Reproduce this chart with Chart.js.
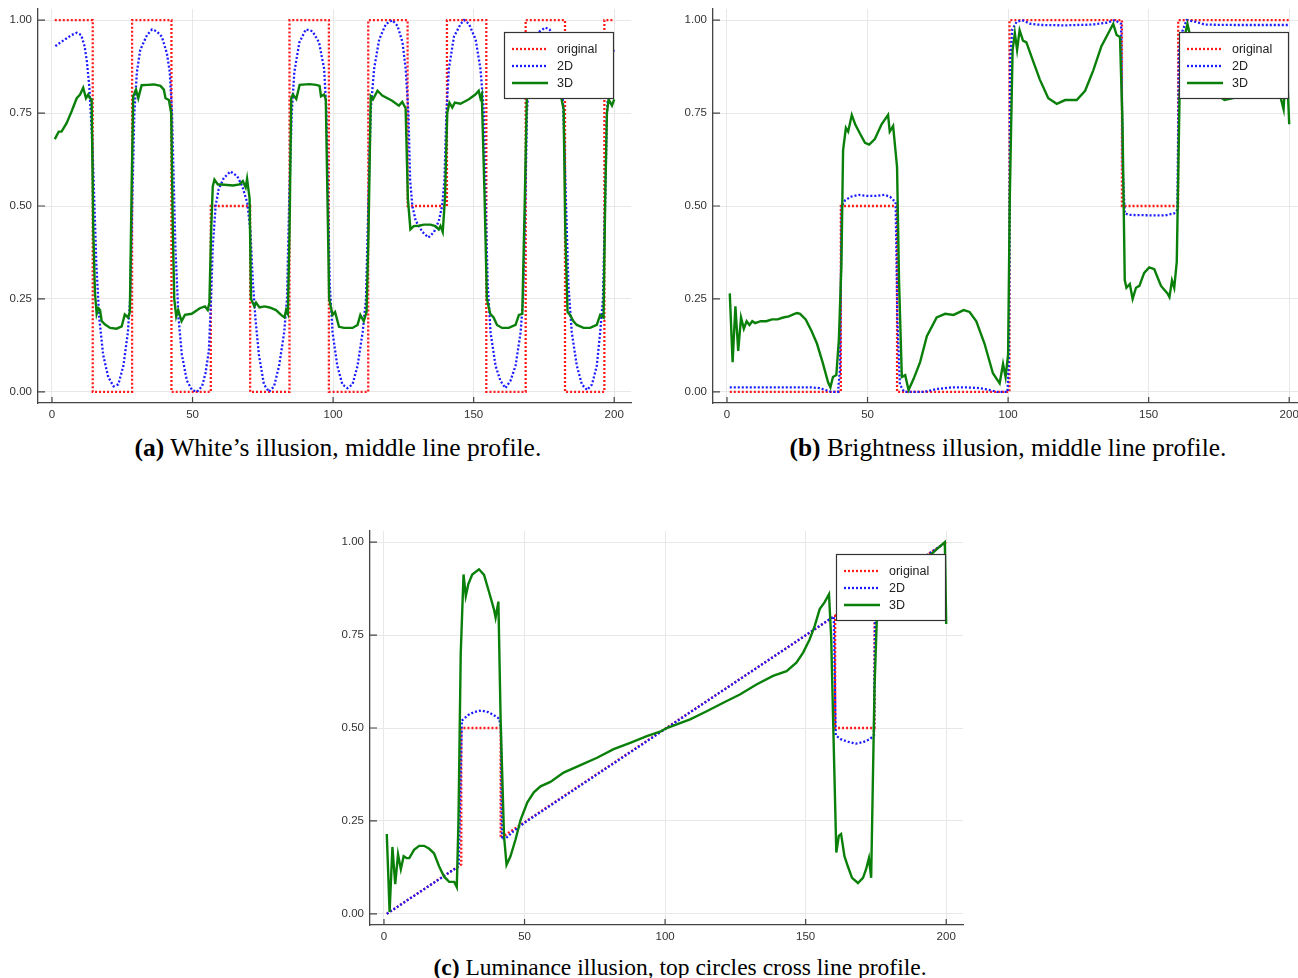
<!DOCTYPE html>
<html><head><meta charset="utf-8">
<script src="https://cdn.jsdelivr.net/npm/chart.js@4.4.1/dist/chart.umd.min.js"></script>
<style>
html,body{margin:0;padding:0;background:#fff;}
body{width:1298px;height:978px;overflow:hidden;position:relative;}
canvas.c{position:absolute;}
.cap{position:absolute;font-family:"Liberation Serif","DejaVu Serif",serif;font-size:21px;color:#000;white-space:nowrap;}
.cap b{font-weight:bold;}
</style></head>
<body>
<canvas class="c" id="ca" width="660" height="430" style="left:0px;top:0px;width:660px;height:430px"></canvas>
<canvas class="c" id="cb" width="660" height="430" style="left:675px;top:0px;width:660px;height:430px"></canvas>
<canvas class="c" id="cc" width="660" height="430" style="left:332px;top:522px;width:660px;height:430px"></canvas>
<div class="cap" id="capA" data-cx="338" data-w="407" style="top:433px"><b>(a)</b> White’s illusion, middle line profile.</div>
<div class="cap" id="capB" data-cx="1008" data-w="437" style="top:433px"><b>(b)</b> Brightness illusion, middle line profile.</div>
<div class="cap" id="capC" data-cx="680" data-w="493" style="top:954px"><b>(c)</b> Luminance illusion, top circles cross line profile.</div>
<script>
// ---------- shared tick labels ----------
const xTicks = [0, 50, 100, 150, 200];
const xTickLabels = ['0', '50', '100', '150', '200'];
const yTicks = [0, 0.25, 0.5, 0.75, 1];
const yTickLabels = ['0.00', '0.25', '0.50', '0.75', '1.00'];
const seriesNames = ['original', '2D', '3D'];

// ---------- (a) White's illusion ----------
const a_original = [[1,1],[14.5,1],[14.5,0],[28.5,0],[28.5,1],[42.5,1],[42.5,0],[56.5,0],[56.5,0.5],[70.5,0.5],[70.5,0],[84.5,0],[84.5,1],[98.5,1],[98.5,0],[112.5,0],[112.5,1],[126.5,1],[126.5,0.5],[140.5,0.5],[140.5,1],[154.5,1],[154.5,0],[168.5,0],[168.5,1],[182.5,1],[182.5,0],[196.5,0],[196.5,1],[200,1]];
const a_2d = [[1.2,0.93],[3,0.94],[5,0.95],[7,0.96],[8.8,0.966],[10.4,0.96],[11.6,0.93],[12.4,0.89],[13.3,0.82],[14.3,0.68],[14.9,0.55],[15.8,0.34],[16.8,0.2],[18.2,0.1],[20,0.04],[21.9,0.015],[23.6,0.02],[25.4,0.07],[27,0.16],[27.8,0.25],[28.6,0.52],[29.3,0.75],[30.2,0.86],[31.4,0.92],[33.8,0.96],[35.6,0.975],[37.3,0.97],[39.1,0.955],[40.9,0.91],[41.9,0.86],[42.7,0.75],[43.3,0.57],[43.9,0.39],[45,0.2],[46.2,0.1],[48,0.03],[49.8,0.005],[51.6,0.0],[53.4,0.015],[54.6,0.05],[55.8,0.11],[56.6,0.25],[57.2,0.39],[58.2,0.5],[59.3,0.545],[61.1,0.575],[63.5,0.593],[65.9,0.58],[67.7,0.553],[69.5,0.508],[70.6,0.43],[71.5,0.29],[72.4,0.195],[73.6,0.1],[75.4,0.02],[77.2,0.0],[79,0.015],[80.8,0.07],[82.6,0.16],[83.6,0.25],[84.4,0.52],[85.3,0.75],[86.2,0.86],[88,0.94],[90.3,0.975],[92.7,0.97],[95,0.94],[96.8,0.87],[97.6,0.76],[98.2,0.52],[98.8,0.29],[99.8,0.16],[101.5,0.07],[103.3,0.02],[105.1,0.01],[106.9,0.02],[108.7,0.07],[110.5,0.16],[111.7,0.25],[112.6,0.52],[113.4,0.76],[114.6,0.87],[116.4,0.948],[118.8,0.99],[121.1,1.0],[122.9,0.985],[124.7,0.94],[125.8,0.87],[126.8,0.75],[127.4,0.57],[128.2,0.5],[129.4,0.46],[131.8,0.43],[133.9,0.415],[135.9,0.43],[137.6,0.46],[138.8,0.5],[139.6,0.57],[140.3,0.75],[141.2,0.87],[143,0.956],[145.4,0.99],[146.6,1.0],[148.3,0.99],[150.7,0.948],[152.4,0.87],[153.6,0.76],[154.2,0.52],[155,0.29],[156,0.16],[157.8,0.07],[159.5,0.03],[161.3,0.01],[163.1,0.03],[164.9,0.07],[166.7,0.16],[167.6,0.25],[168.4,0.52],[169,0.76],[170,0.86],[171.5,0.93],[173.5,0.97],[175.5,0.98],[177,0.975],[179,0.95],[180.5,0.9],[181.3,0.84],[181.9,0.76],[182.8,0.52],[183.7,0.29],[184.9,0.16],[186.7,0.07],[188.5,0.02],[190.3,0.005],[192.1,0.02],[193.8,0.07],[195,0.16],[196,0.25],[196.8,0.52],[197.4,0.75],[198.3,0.85],[199,0.9],[200,0.925]];
const a_3d = [[1,0.68],[2.4,0.70],[3.4,0.70],[5.2,0.723],[7,0.755],[8.8,0.79],[10,0.80],[11.1,0.818],[12.1,0.79],[12.9,0.80],[13.5,0.79],[14.1,0.787],[14.7,0.43],[15.3,0.265],[15.9,0.21],[16.5,0.225],[17.1,0.22],[17.7,0.19],[18.9,0.181],[20.7,0.172],[23,0.17],[24.8,0.176],[25.9,0.208],[27.1,0.20],[27.7,0.215],[28.3,0.53],[28.9,0.795],[29.9,0.813],[30.7,0.79],[31.9,0.825],[33.9,0.826],[36.3,0.827],[38.6,0.823],[39.8,0.813],[40.4,0.79],[41.6,0.785],[42.4,0.75],[43,0.43],[43.5,0.25],[44.2,0.203],[44.9,0.22],[46.1,0.19],[47.3,0.207],[49.7,0.21],[52.6,0.225],[54.4,0.23],[55.4,0.22],[56,0.24],[56.6,0.43],[57.2,0.553],[57.8,0.571],[59,0.558],[60.2,0.558],[64.4,0.555],[66.7,0.558],[67.9,0.567],[68.9,0.55],[69.4,0.573],[70.3,0.52],[70.8,0.25],[72,0.23],[72.6,0.24],[73.8,0.227],[75.6,0.23],[77.4,0.227],[79.7,0.22],[81.5,0.207],[82.7,0.2],[83.3,0.22],[83.9,0.21],[84.5,0.43],[85.1,0.79],[85.7,0.8],[86.9,0.788],[88.1,0.826],[91.6,0.828],[94,0.826],[95.2,0.823],[95.7,0.795],[96.8,0.80],[97.4,0.787],[98,0.52],[98.6,0.25],[99.8,0.207],[100.7,0.215],[102.1,0.175],[103.9,0.172],[106.9,0.172],[108.7,0.18],[109.7,0.207],[110.9,0.19],[111.9,0.215],[112.6,0.43],[113.4,0.795],[114.2,0.787],[115.8,0.81],[117.5,0.797],[121,0.783],[123.4,0.77],[124.6,0.78],[125.8,0.763],[126.6,0.52],[127.5,0.437],[128.7,0.446],[130.5,0.447],[132.3,0.45],[134.6,0.45],[136.4,0.446],[137.6,0.437],[138.2,0.446],[139,0.43],[139.8,0.52],[140.6,0.75],[141.4,0.778],[142.4,0.765],[143.3,0.778],[145.3,0.775],[148.3,0.787],[150.6,0.8],[151.8,0.81],[152.4,0.79],[152.9,0.80],[153.9,0.52],[154.7,0.25],[155.9,0.21],[157.1,0.2],[158.3,0.18],[160.1,0.172],[162.5,0.172],[164.9,0.18],[166.1,0.207],[167.3,0.21],[168.2,0.52],[168.9,0.787],[170,0.80],[172,0.82],[175,0.825],[178,0.825],[180,0.81],[181.2,0.79],[182,0.76],[182.6,0.43],[183.4,0.215],[184.3,0.207],[185.5,0.19],[186.7,0.18],[189.1,0.172],[191.4,0.172],[193.8,0.18],[195,0.207],[196.2,0.2],[196.8,0.52],[197.4,0.75],[198,0.787],[199.2,0.77],[200,0.787]];

// ---------- (b) Brightness illusion ----------
const b_original = [[1,0],[40.5,0],[40.5,0.5],[60.5,0.5],[60.5,0],[100.5,0],[100.5,1],[140.5,1],[140.5,0.5],[160.5,0.5],[160.5,1],[200,1]];
const b_2d = [[1,0.012],[30,0.012],[33,0.01],[35,0.005],[37,0.0],[39.5,0.0],[40.2,0.06],[40.8,0.5],[42,0.515],[44,0.525],[47,0.53],[50,0.527],[53,0.527],[56,0.53],[58,0.525],[60,0.51],[60.6,0.2],[61.5,0.02],[63,0.0],[70,0.0],[72,0.003],[75,0.008],[80,0.012],[85,0.012],[90,0.01],[94,0.004],[96,0.0],[99.8,0.0],[100.3,0.1],[100.8,0.9],[101.5,0.975],[103,0.995],[105,1.0],[108,0.99],[112,0.987],[120,0.986],[130,0.988],[135,0.993],[138,1.0],[140.2,0.99],[140.8,0.6],[141.5,0.48],[143,0.476],[150,0.475],[156,0.475],[159,0.48],[160.2,0.49],[160.8,0.92],[162,0.97],[163.5,1.0],[167,0.995],[170,0.988],[180,0.987],[200,0.987]];
const b_3d = [[1,0.265],[2,0.08],[3,0.23],[4,0.11],[5,0.20],[6,0.17],[7,0.19],[8,0.18],[9,0.19],[10,0.185],[12,0.19],[14,0.19],[16,0.195],[18,0.195],[20,0.20],[22,0.203],[24,0.21],[25,0.212],[26,0.21],[28,0.195],[30,0.165],[32,0.13],[34,0.08],[36,0.025],[36.8,0.012],[37.7,0.04],[38.9,0.045],[39.8,0.14],[40.7,0.34],[41.3,0.65],[42.3,0.71],[43.1,0.70],[44.4,0.745],[45.6,0.72],[47.3,0.695],[49.1,0.67],[50.6,0.665],[52.6,0.68],[55,0.72],[57.3,0.745],[57.9,0.70],[59.1,0.715],[60.5,0.605],[61.2,0.3],[62.2,0.04],[63.4,0.045],[64.6,0.005],[66.4,0.035],[68.7,0.08],[71.1,0.15],[74.6,0.2],[77.6,0.21],[80.6,0.207],[84.2,0.22],[86.3,0.215],[88.7,0.19],[91.6,0.13],[94.6,0.05],[97,0.023],[98.2,0.075],[99.1,0.04],[100,0.1],[100.6,0.52],[101.6,0.92],[102.4,0.965],[103.2,0.92],[104.1,0.973],[105.3,0.945],[106.5,0.94],[108.9,0.89],[111.3,0.84],[114.3,0.79],[117.3,0.775],[120.3,0.785],[124.4,0.785],[127.4,0.81],[130.3,0.865],[133.2,0.93],[136.2,0.973],[137.4,0.99],[138.6,0.96],[139.8,0.955],[140.7,0.72],[141.5,0.3],[142.1,0.28],[143.3,0.29],[144.3,0.25],[145.5,0.28],[146.7,0.285],[148.4,0.32],[150.2,0.335],[152,0.33],[154.4,0.285],[156.7,0.265],[157.4,0.255],[158.3,0.3],[159.1,0.28],[160,0.35],[161,0.8],[162,0.93],[163.8,0.99],[165,0.95],[166,0.94],[168,0.90],[171,0.85],[174,0.80],[177,0.785],[180,0.79],[184,0.80],[188,0.82],[192,0.82],[195,0.80],[197,0.79],[198,0.76],[199,0.9],[200,0.72]];

// ---------- (c) Luminance illusion ----------
const c_original = [[1,0],[27.5,0.133],[27.5,0.5],[41.5,0.5],[41.5,0.204],[160.5,0.802],[160.5,0.5],[174.5,0.5],[174.5,0.872],[200,1]];
const c_2d = [[1,0],[26.6,0.128],[27.7,0.52],[30,0.535],[32,0.543],[34.5,0.547],[37,0.543],[39,0.535],[41,0.525],[41.6,0.5],[42,0.2],[43.3,0.203],[46,0.222],[50,0.245],[100,0.497],[160,0.8],[160.7,0.48],[162.5,0.47],[165,0.463],[167.8,0.458],[170.5,0.462],[172.8,0.47],[174.3,0.48],[174.8,0.872],[200,1]];
const c_3d = [[1,0.215],[2,0.005],[3,0.18],[4,0.08],[5,0.16],[6,0.12],[7,0.155],[8,0.15],[9,0.15],[10.7,0.172],[12.5,0.183],[14.3,0.183],[16.1,0.175],[17.8,0.163],[19.6,0.128],[21.4,0.10],[23.2,0.086],[25,0.086],[25.9,0.072],[26.5,0.25],[27.3,0.70],[28.3,0.913],[29.1,0.855],[30,0.887],[31.4,0.913],[33.8,0.927],[35.6,0.912],[37.3,0.868],[39.1,0.82],[39.7,0.797],[40.7,0.84],[41.5,0.52],[42.7,0.21],[43.6,0.132],[45,0.155],[46.8,0.2],[48.6,0.253],[51,0.30],[53.3,0.327],[55.7,0.343],[59.2,0.355],[63.9,0.38],[69.9,0.40],[75.8,0.42],[81.7,0.443],[87.6,0.46],[93.5,0.478],[98.2,0.49],[100.6,0.5],[108.9,0.523],[114.8,0.545],[120.7,0.568],[126.6,0.59],[132.5,0.617],[138.4,0.64],[143.2,0.653],[146.7,0.676],[149.1,0.703],[151.4,0.738],[153.2,0.774],[155,0.82],[156.7,0.838],[158.3,0.86],[159.1,0.74],[159.9,0.48],[160.9,0.165],[161.8,0.21],[162.6,0.215],[163.8,0.155],[165,0.128],[166.5,0.097],[168.6,0.083],[170.4,0.097],[171.5,0.12],[172.5,0.15],[173.3,0.097],[174.5,0.61],[175.3,0.79],[176,0.86],[180,0.88],[185,0.91],[190,0.94],[195,0.97],[199.5,1.0],[200,0.78]];

// ---------- styles ----------
const styles = [
  {color:'#ff1a1a', dash:[2,2], width:2.3, order:2},
  {color:'#1a1aff', dash:[2,2], width:2.3, order:1},
  {color:'#0a800a', dash:[], width:2.4, order:0}
];
const tickFont = {family:'"Liberation Sans", Arial, Helvetica, sans-serif', size:11.5};

const inTicks = {
  id:'inTicks',
  afterDatasetsDraw(chart){
    const {ctx, chartArea:ca, scales} = chart;
    ctx.save();
    ctx.strokeStyle = '#444'; ctx.lineWidth = 1.2;
    ctx.beginPath();
    scales.x.ticks.forEach(t=>{const px=scales.x.getPixelForValue(t.value); ctx.moveTo(px,ca.bottom); ctx.lineTo(px,ca.bottom-6);});
    scales.y.ticks.forEach(t=>{const py=scales.y.getPixelForValue(t.value); ctx.moveTo(ca.left,py); ctx.lineTo(ca.left+7,py);});
    ctx.stroke();
    ctx.restore();
  }
};
const boxLegend = {
  id:'boxLegend',
  afterDraw(chart){
    const {ctx, chartArea:ca} = chart;
    const w = 109, h = 66;
    const x0 = Math.round(ca.right - 18 - w), y0 = Math.round(ca.top + 23);
    ctx.save();
    ctx.fillStyle = '#fff'; ctx.fillRect(x0, y0, w, h);
    ctx.strokeStyle = '#333'; ctx.lineWidth = 1.2; ctx.setLineDash([]);
    ctx.strokeRect(x0 + 0.5, y0 + 0.5, w, h);
    chart.data.datasets.forEach((ds, i) => {
      const yy = y0 + 17 + i * 17;
      ctx.beginPath();
      ctx.setLineDash(ds.borderDash || []);
      ctx.strokeStyle = ds.borderColor; ctx.lineWidth = ds.borderWidth;
      ctx.moveTo(x0 + 8, yy); ctx.lineTo(x0 + 44, yy); ctx.stroke();
      ctx.setLineDash([]);
      ctx.fillStyle = '#222';
      ctx.font = '12.5px "Liberation Sans", Arial, Helvetica, sans-serif';
      ctx.textBaseline = 'middle'; ctx.textAlign = 'left';
      ctx.fillText(ds.label, x0 + 53, yy + 0.5);
    });
    ctx.restore();
  }
};

function makeChart(id, series){
  const datasets = series.map((pts, i) => ({
    label: seriesNames[i],
    data: pts.map(p => ({x:p[0], y:p[1]})),
    showLine: true,
    borderColor: styles[i].color,
    backgroundColor: styles[i].color,
    borderDash: styles[i].dash,
    borderWidth: styles[i].width,
    pointRadius: 0,
    pointHoverRadius: 0,
    tension: 0,
    fill: false,
    order: styles[i].order
  }));
  return new Chart(document.getElementById(id), {
    type: 'scatter',
    data: {datasets},
    options: {
      responsive: false,
      animation: false,
      events: [],
      layout: {padding: {left:0, top:9, right:29, bottom:0}},
      plugins: {legend:{display:false}, tooltip:{enabled:false}},
      scales: {
        x: {
          type:'linear', min:-4.97, max:205.97,
          afterBuildTicks: s => { s.ticks = xTicks.map(v => ({value:v})); },
          afterFit: s => { s.height = 27; s.paddingLeft = 0; s.paddingRight = 0; },
          grid: {color:'#e8e8e8', lineWidth:1, drawTicks:false},
          border: {display:true, color:'#444', width:1.3},
          ticks: {padding:5, color:'#333', font:tickFont, maxRotation:0, autoSkip:false,
                  callback: (v, i) => xTickLabels[i]}
        },
        y: {
          type:'linear', min:-0.03, max:1.03,
          afterBuildTicks: s => { s.ticks = yTicks.map(v => ({value:v})); },
          afterFit: s => { s.width = 38; s.paddingTop = 0; s.paddingBottom = 0; },
          grid: {color:'#e8e8e8', lineWidth:1, drawTicks:false},
          border: {display:true, color:'#444', width:1.3},
          ticks: {padding:6, color:'#333', font:tickFont, autoSkip:false,
                  callback: (v, i) => yTickLabels[i]}
        }
      }
    },
    plugins: [inTicks, boxLegend]
  });
}

makeChart('ca', [a_original, a_2d, a_3d]);
makeChart('cb', [b_original, b_2d, b_3d]);
makeChart('cc', [c_original, c_2d, c_3d]);

// fit captions to their measured widths and centres
document.querySelectorAll('.cap').forEach(el => {
  const target = +el.dataset.w, cx = +el.dataset.cx;
  const w0 = el.offsetWidth;
  const fs = 21 * target / w0;
  el.style.fontSize = fs.toFixed(2) + 'px';
  el.style.left = (cx - el.offsetWidth / 2).toFixed(1) + 'px';
});
</script>
</body></html>
